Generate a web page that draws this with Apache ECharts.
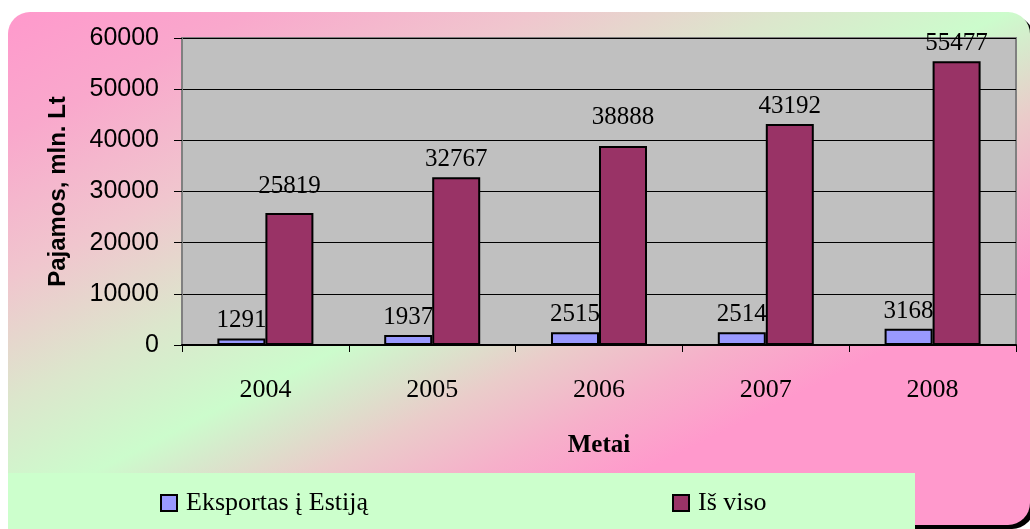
<!DOCTYPE html>
<html>
<head>
<meta charset="utf-8">
<script src="https://cdn.jsdelivr.net/npm/echarts@6/dist/echarts.min.js"></script>
<style>
  html, body { margin: 0; padding: 0; background: #fff; }
  #chart { width: 1030px; height: 529px; }
</style>
</head>
<body>
<div id="chart"></div>
<script>
// data
const years = ['2004', '2005', '2006', '2007', '2008']
const exportEstonia = [1291, 1937, 2515, 2514, 3168]
const totalIncome = [25819, 32767, 38888, 43192, 55477]
const seriesNames = ['Eksportas į Estiją', 'Iš viso']

// a few labels sit a bit higher in the original
const totalLabelShift = [-9, 0, -11, 0, 0]

const serif = 'Liberation Serif'
const sans = 'Liberation Sans'

// pink / green diagonal fill of the chart area
const bgFill = {
  type: 'linear', x: 312, y: -141, x2: 724, y2: 678, global: true,
  colorStops: [
    { offset: 0, color: '#FF99CC' },
    { offset: 0.12, color: '#F9A8CC' },
    { offset: 0.26, color: '#F0C6CE' },
    { offset: 0.38, color: '#DCE6CC' },
    { offset: 0.49, color: '#CCFCCC' },
    { offset: 0.53, color: '#D6EACC' },
    { offset: 0.6, color: '#EACCCA' },
    { offset: 0.68, color: '#F6B0CA' },
    { offset: 0.76, color: '#FF99CC' },
    { offset: 1, color: '#FF99CC' }
  ]
}

const labelStyle = { show: true, position: 'top', distance: 5, fontFamily: serif, fontSize: 25, color: '#000' }

const chart = echarts.init(document.getElementById('chart'))
const option = {
  animation: false,
  graphic: [
    { type: 'rect', z: -10, shape: { x: 12, y: 16, width: 1022, height: 513, r: 22 }, style: { fill: '#000' } },
    { type: 'rect', z: -9, shape: { x: 8, y: 12, width: 1022, height: 513, r: 22 }, style: { fill: bgFill } },
    { type: 'rect', z: -8, shape: { x: 8, y: 473, width: 907, height: 60 }, style: { fill: '#CCFFCC' } }
  ],
  grid: {
    left: 182,
    top: 38,
    width: 834,
    height: 307,
    show: true,
    backgroundColor: '#C0C0C0',
    borderColor: '#808080',
    borderWidth: 2
  },
  legend: [
    {
      data: [seriesNames[0]],
      left: 160, top: 490, padding: 0,
      icon: 'rect',
      itemWidth: 16, itemHeight: 16,
      itemStyle: { borderColor: '#000', borderWidth: 2 },
      textStyle: { fontFamily: serif, fontSize: 26, color: '#000', padding: [0, 0, 0, 4] }
    },
    {
      data: [seriesNames[1]],
      left: 672, top: 490, padding: 0,
      icon: 'rect',
      itemWidth: 16, itemHeight: 16,
      itemStyle: { borderColor: '#000', borderWidth: 2 },
      textStyle: { fontFamily: serif, fontSize: 26, color: '#000', padding: [0, 0, 0, 4] }
    }
  ],
  xAxis: {
    type: 'category',
    data: years,
    name: 'Metai',
    nameLocation: 'middle',
    nameGap: 88,
    nameTextStyle: { fontFamily: serif, fontSize: 25, fontWeight: 'bold', color: '#000' },
    axisLine: { lineStyle: { color: '#000', width: 2 } },
    axisTick: { show: true, length: 7, lineStyle: { color: '#000', width: 1 } },
    axisLabel: { margin: 32, fontFamily: serif, fontSize: 26, color: '#000' }
  },
  yAxis: {
    type: 'value',
    min: 0,
    max: 60000,
    interval: 10000,
    name: 'Pajamos, mln. Lt',
    nameLocation: 'middle',
    nameGap: 112,
    nameTextStyle: { fontFamily: sans, fontSize: 24, fontWeight: 'bold', color: '#000' },
    axisLine: { show: true, lineStyle: { color: '#808080', width: 2 } },
    axisTick: { show: true, length: 8, lineStyle: { color: '#000', width: 1 } },
    axisLabel: { margin: 23, fontFamily: sans, fontSize: 25, color: '#000', formatter: (v) => String(v) },
    splitLine: { lineStyle: { color: '#000', width: 1 } }
  },
  series: [
    {
      name: seriesNames[0],
      type: 'bar',
      data: exportEstonia,
      barWidth: 48,
      barGap: '0%',
      itemStyle: { color: '#9999FF', borderColor: '#000', borderWidth: 2 },
      label: labelStyle
    },
    {
      name: seriesNames[1],
      type: 'bar',
      data: totalIncome.map((v, i) => ({ value: v, label: { offset: [0, totalLabelShift[i]] } })),
      barWidth: 48,
      barGap: '0%',
      itemStyle: { color: '#993366', borderColor: '#000', borderWidth: 2 },
      label: labelStyle
    }
  ]
}
chart.setOption(option)
</script>
</body>
</html>
